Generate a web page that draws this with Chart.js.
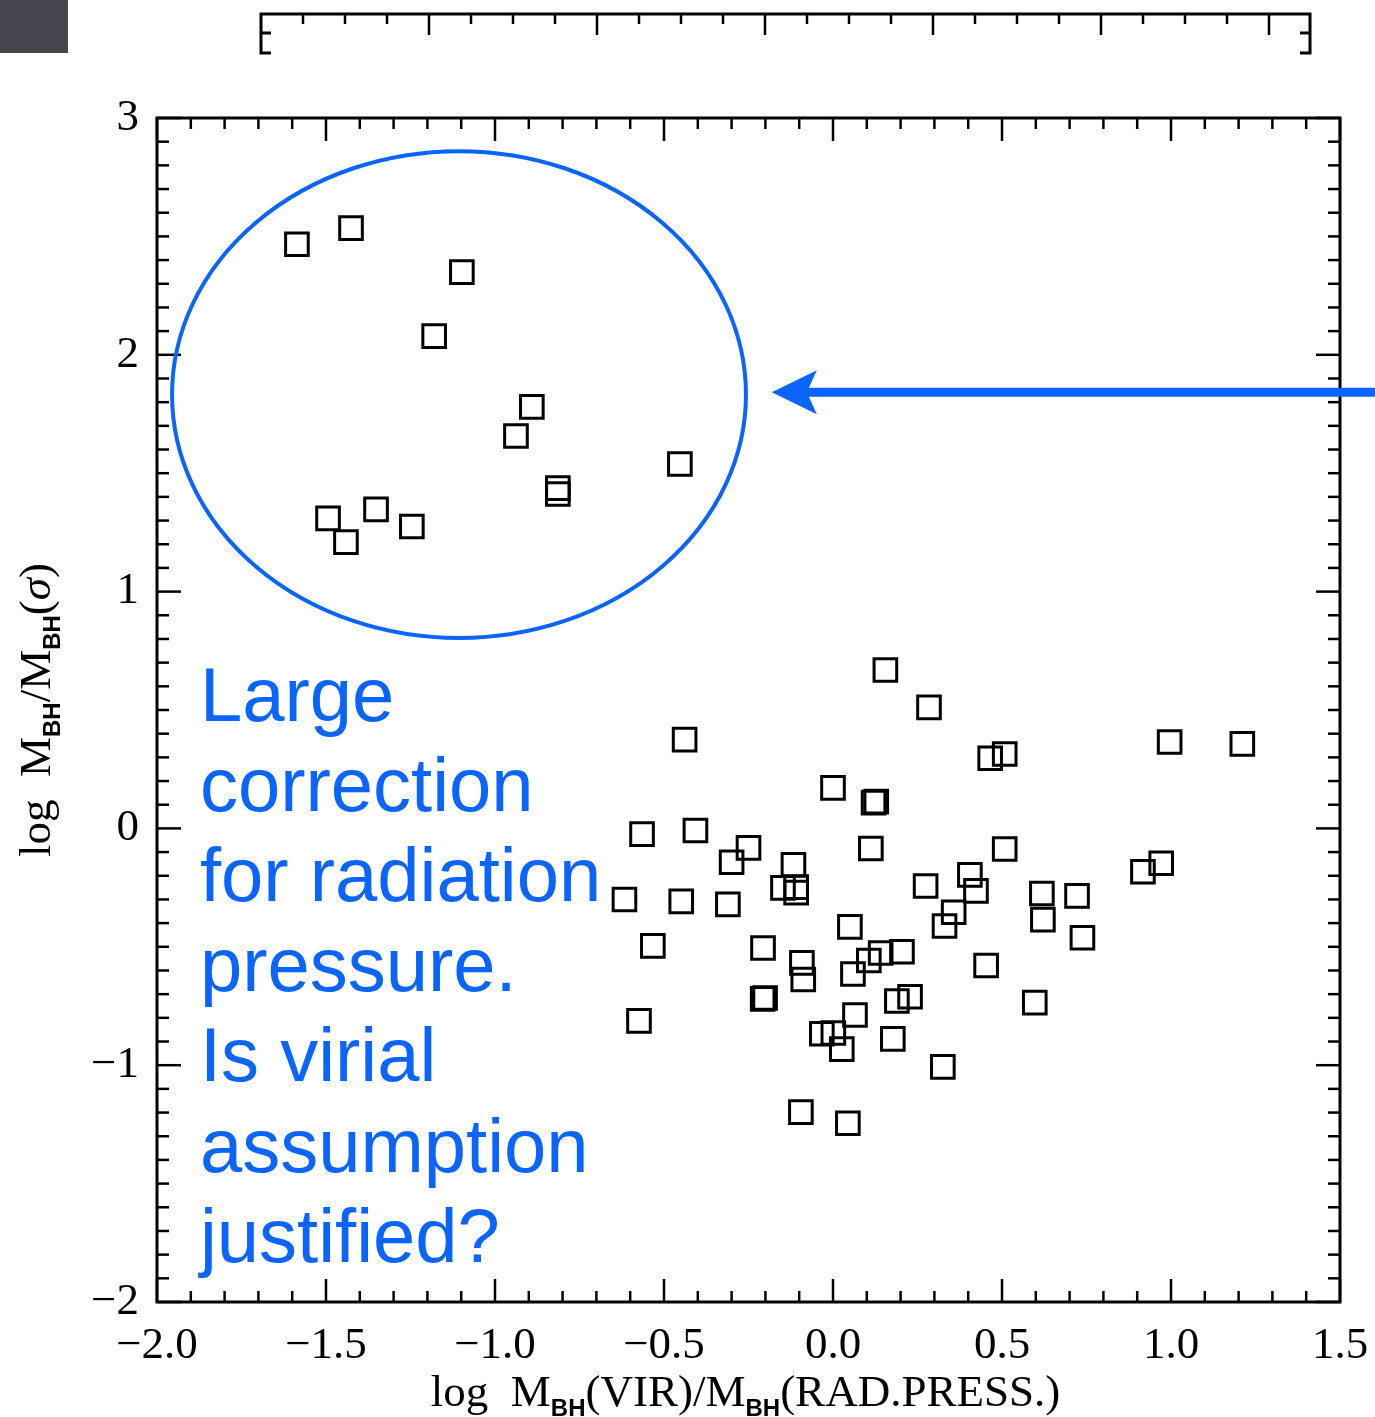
<!DOCTYPE html>
<html lang="en">
<head>
<meta charset="UTF-8">
<title>Virial vs radiation pressure black hole masses</title>
<script src="https://cdn.jsdelivr.net/npm/chart.js@4.4.1/dist/chart.umd.min.js"></script>
<style>
  body { margin: 0; background: #fff; }
  canvas { display: block; }
</style>
</head>
<body>
<canvas id="myChart" width="1375" height="1417"></canvas>
<script>
// log M_BH(VIR)/M_BH(RAD.PRESS.)
var xVals = [
  -1.586, -1.426, -1.098, -1.180, -0.891, -0.938, -0.453, -0.814, -0.814, -1.494, -1.352, -1.246, -1.441,
  0.155, 0.284, -0.439, 0.465, 0.508, 0.996, 1.211, 0.000, 0.120, 0.128, -0.565, -0.407, 0.112, 0.508,
  -0.250, -0.300, -0.117, -0.148, -0.109, -0.109, -0.617, -0.449, -0.311, 0.274, 0.405, 0.423, 0.357,
  0.330, 0.618, 0.621, 0.722, 0.738, 0.917, 0.971, 0.050, -0.533, -0.207, -0.092, -0.088, 0.059, 0.106,
  0.141, 0.204, 0.453, -0.574, -0.208, -0.201, 0.189, 0.228, 0.597, 0.065, -0.033, 0.001, 0.026, 0.177,
  0.325, -0.095, 0.044
];
// log M_BH/M_BH(sigma)
var yVals = [
  2.467, 2.535, 2.349, 2.079, 1.780, 1.657, 1.539, 1.437, 1.412, 1.309, 1.347, 1.275, 1.209,
  0.669, 0.511, 0.375, 0.296, 0.314, 0.365, 0.357, 0.171, 0.109, 0.113, -0.024, -0.009, -0.085, -0.087,
  -0.082, -0.143, -0.154, -0.251, -0.248, -0.271, -0.300, -0.308, -0.321, -0.243, -0.196, -0.264, -0.354,
  -0.412, -0.275, -0.385, -0.285, -0.462, -0.183, -0.147, -0.416, -0.496, -0.505, -0.568, -0.638, -0.615, -0.558,
  -0.526, -0.521, -0.579, -0.813, -0.720, -0.716, -0.729, -0.711, -0.736, -0.788, -0.867, -0.864, -0.932, -0.889,
  -1.007, -1.198, -1.245
];
var xTicks = [-2.0, -1.5, -1.0, -0.5, 0.0, 0.5, 1.0, 1.5];
var yTicks = [-2, -1, 0, 1, 2, 3];
var noteLines = ['Large', 'correction', 'for radiation', 'pressure.', 'Is virial', 'assumption', 'justified?'];

var BLUE = '#0a64ff';
var SERIF = '"Liberation Serif", "Times New Roman", serif';
var SUB = 'bold 24px "Liberation Sans Narrow", "Liberation Sans", Arial, sans-serif';

function signed(v, d) {
  return (v < 0 ? '\u2212' : '') + Math.abs(v).toFixed(d);
}

function seg(ctx, x1, y1, x2, y2) {
  ctx.beginPath(); ctx.moveTo(x1, y1); ctx.lineTo(x2, y2); ctx.stroke();
}

function drawRuns(ctx, runs, cx, cy) {
  var total = 0;
  runs.forEach(function (r) { ctx.font = r.font; r.w = ctx.measureText(r.t).width; total += r.w; });
  var x = cx - total / 2;
  ctx.textAlign = 'left';
  ctx.textBaseline = 'alphabetic';
  runs.forEach(function (r) { ctx.font = r.font; ctx.fillText(r.t, x, cy + (r.dy || 0)); x += r.w; });
}

var idlDecor = {
  id: 'idlDecor',
  afterDraw: function (chart) {
    var ctx = chart.ctx, a = chart.chartArea;
    var xs = chart.scales.x, ys = chart.scales.y;
    ctx.save();
    ctx.strokeStyle = '#000';
    ctx.fillStyle = '#000';

    // frame + inward ticks
    ctx.lineWidth = 3;
    ctx.strokeRect(a.left, a.top, a.right - a.left, a.bottom - a.top);
    ctx.lineWidth = 2.5;
    for (var i = -20; i <= 15; i++) {
      var px = xs.getPixelForValue(i / 10);
      var len = (i % 5 === 0) ? 23 : 11;
      seg(ctx, px, a.bottom, px, a.bottom - len);
      seg(ctx, px, a.top, px, a.top + len);
    }
    for (var j = -20; j <= 30; j++) {
      var py = ys.getPixelForValue(j / 10);
      var l2 = (j % 10 === 0) ? 24 : 12;
      seg(ctx, a.left, py, a.left + l2, py);
      seg(ctx, a.right, py, a.right - l2, py);
    }

    // piece of the panel above
    ctx.fillStyle = '#45454d';
    ctx.fillRect(0, 0, 68, 53);
    ctx.fillStyle = '#000';
    ctx.lineWidth = 3;
    ctx.beginPath();
    ctx.moveTo(271, 53); ctx.lineTo(261, 53); ctx.lineTo(261, 14);
    ctx.lineTo(1310, 14); ctx.lineTo(1310, 53); ctx.lineTo(1300, 53);
    ctx.stroke();
    seg(ctx, 261, 33, 271, 33);
    seg(ctx, 1310, 33, 1300, 33);
    ctx.lineWidth = 2.5;
    for (var k = 1; k < 25; k++) {
      var tx = 261 + k * 42;
      seg(ctx, tx, 14, tx, (k % 4 === 0) ? 35 : 24);
    }

    // ellipse round the high points
    var ecx = xs.getPixelForValue(-1.1065), ecy = ys.getPixelForValue(1.832);
    var erx = xs.getPixelForValue(-1.1065 + 0.849) - ecx;
    var ery = ecy - ys.getPixelForValue(1.832 + 1.028);
    ctx.strokeStyle = BLUE;
    ctx.fillStyle = BLUE;
    ctx.lineWidth = 4;
    ctx.beginPath();
    ctx.ellipse(ecx, ecy, erx, ery, 0, 0, Math.PI * 2);
    ctx.stroke();

    // arrow
    var tip = xs.getPixelForValue(-0.181), ay = ys.getPixelForValue(1.842);
    ctx.lineWidth = 9;
    seg(ctx, tip + 35, ay, chart.width + 5, ay);
    ctx.beginPath();
    ctx.moveTo(tip, ay);
    ctx.lineTo(tip + 45, ay - 22);
    ctx.lineTo(tip + 35, ay);
    ctx.lineTo(tip + 45, ay + 22);
    ctx.closePath();
    ctx.fill();

    // note
    ctx.font = '76px "Liberation Sans", Arial, sans-serif';
    ctx.textAlign = 'left';
    ctx.textBaseline = 'alphabetic';
    var nx = xs.getPixelForValue(-1.873), ny = ys.getPixelForValue(0.4535);
    noteLines.forEach(function (t, n) { ctx.fillText(t, nx, ny + n * 90.1); });

    // axis titles
    ctx.fillStyle = '#000';
    var f = '45px ' + SERIF;
    drawRuns(ctx, [
      { t: 'log  M', font: f }, { t: 'BH', font: SUB, dy: 10 },
      { t: '(VIR)/M', font: f }, { t: 'BH', font: SUB, dy: 10 },
      { t: '(RAD.PRESS.)', font: f }
    ], (a.left + a.right) / 2 - 3, 1406);

    ctx.translate(50, (a.top + a.bottom) / 2);
    ctx.rotate(-Math.PI / 2);
    drawRuns(ctx, [
      { t: 'log  M', font: f }, { t: 'BH', font: SUB, dy: 10 },
      { t: '/M', font: f }, { t: 'BH', font: SUB, dy: 10 },
      { t: '(', font: f }, { t: '\u03c3', font: 'italic 45px ' + SERIF }, { t: ')', font: f }
    ], 0, 0);
    ctx.restore();
  }
};

var points = xVals.map(function (x, i) { return { x: x, y: yVals[i] }; });

new Chart(document.getElementById('myChart'), {
  type: 'scatter',
  data: {
    datasets: [{
      data: points,
      pointStyle: 'rect',
      pointRadius: 16,
      pointBorderWidth: 3,
      pointBorderColor: '#000',
      pointBackgroundColor: 'rgba(0,0,0,0)'
    }]
  },
  options: {
    responsive: false,
    animation: false,
    devicePixelRatio: 1,
    events: [],
    layout: { padding: { left: 0, top: 118, right: 35, bottom: 0 } },
    plugins: { legend: { display: false }, tooltip: { enabled: false } },
    scales: {
      x: {
        type: 'linear', min: -2, max: 1.5,
        border: { display: false },
        grid: { display: false, drawTicks: false },
        afterBuildTicks: function (s) { s.ticks = xTicks.map(function (v) { return { value: v }; }); },
        afterFit: function (s) { s.height = 115; s.paddingLeft = 0; s.paddingRight = 0; },
        ticks: {
          padding: 17, color: '#000', maxRotation: 0, autoSkip: false,
          font: { family: SERIF, size: 45, lineHeight: 1.2 },
          callback: function (v) { return signed(v, 1); }
        }
      },
      y: {
        type: 'linear', min: -2, max: 3,
        border: { display: false },
        grid: { display: false, drawTicks: false },
        afterBuildTicks: function (s) { s.ticks = yTicks.map(function (v) { return { value: v }; }); },
        afterFit: function (s) { s.width = 157; s.paddingTop = 0; s.paddingBottom = 0; },
        ticks: {
          padding: 18, color: '#000', autoSkip: false,
          font: { family: SERIF, size: 45, lineHeight: 1.2 },
          callback: function (v) { return signed(v, 0); }
        }
      }
    }
  },
  plugins: [idlDecor]
});
</script>
</body>
</html>
